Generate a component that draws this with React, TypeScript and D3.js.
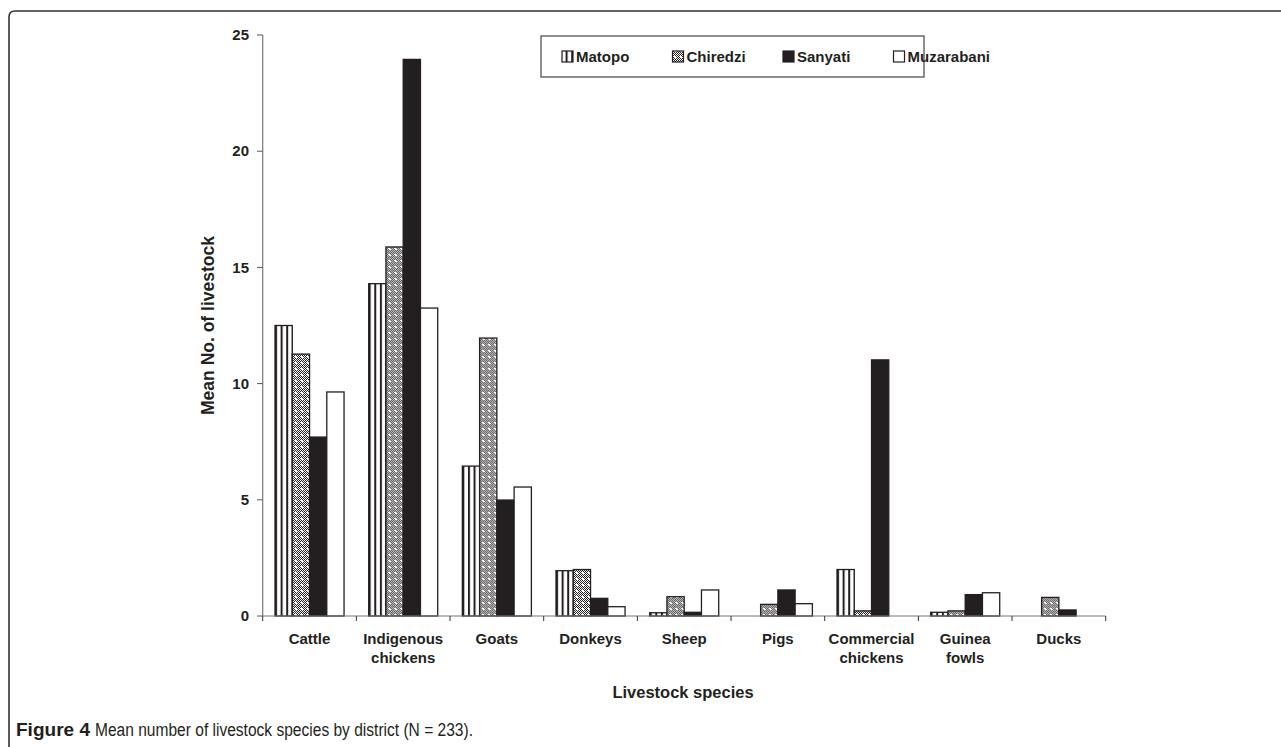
import React from "react";
import * as d3 from "d3";

const categories = ["Cattle", "Indigenous\nchickens", "Goats", "Donkeys", "Sheep", "Pigs", "Commercial\nchickens", "Guinea\nfowls", "Ducks"];
const seriesNames = ["Matopo", "Chiredzi", "Sanyati", "Muzarabani"];
const matopo = [12.5, 14.3, 6.45, 1.95, 0.14, 0, 2.0, 0.16, 0];
const chiredzi = [11.27, 15.88, 11.96, 2.0, 0.83, 0.5, 0.22, 0.22, 0.8];
const sanyati = [7.7, 23.95, 4.99, 0.76, 0.16, 1.12, 11.02, 0.92, 0.26];
const muzarabani = [9.64, 13.25, 5.55, 0.4, 1.12, 0.53, 0, 1.0, 0];
const yTicks = [0, 5, 10, 15, 20, 25];

const seriesValues = [matopo, chiredzi, sanyati, muzarabani];
const INK = "#231f20";
const FONT = "'Liberation Sans', Arial, sans-serif";
const fills = ["url(#stripes)", "url(#checker)", INK, "#ffffff"];

export default function App() {
  const W = 1281, H = 747;
  const x0 = d3.scaleBand<string>().domain(categories).range([262.7, 1105.7]).paddingInner(0.263).paddingOuter(0.1315);
  const x1 = d3.scaleBand<string>().domain(seriesNames).range([0, x0.bandwidth()]);
  const y = d3.scaleLinear().domain([0, 25]).range([616, 35]);
  const step = x0.step();
  const boundaries = d3.range(categories.length + 1).map(i => 262.7 + i * step);

  return (
    <svg width={W} height={H} style={{ position: "absolute", left: 0, top: 0, background: "#fff" }} fontFamily={FONT}>
      <defs>
        <pattern id="stripes" patternUnits="userSpaceOnUse" width="5.6" height="10">
          <rect width="5.6" height="10" fill="#fff" />
          <rect x="0" width="2" height="10" fill={INK} />
        </pattern>
        <pattern id="fine" patternUnits="userSpaceOnUse" width="2" height="2">
          <rect width="2" height="2" fill="#fff" />
          <rect x="0" y="0" width="1" height="1" fill={INK} />
          <rect x="1" y="1" width="1" height="1" fill={INK} />
        </pattern>
        <pattern id="checker" patternUnits="userSpaceOnUse" width="6" height="6">
          <rect width="6" height="6" fill="url(#fine)" />
          <rect x="2" y="2" width="2" height="2" fill="#fff" />
        </pattern>
      </defs>

      {/* frame */}
      <path d={`M ${W + 5} 11 L 15 11 Q 9 11 9 17 L 9 ${H + 5}`} fill="none" stroke="#333" strokeWidth={1.6} />

      {/* bars */}
      {categories.map((c, ci) => (
        <g key={c} transform={`translate(${x0(c)},0)`}>
          {seriesNames.map((s, si) => {
            const v = seriesValues[si][ci];
            if (v <= 0) return null;
            return (
              <rect key={s} x={x1(s)} y={y(v)} width={x1.bandwidth()} height={y(0) - y(v)}
                fill={fills[si]} stroke={INK} strokeWidth={1.3} />
            );
          })}
        </g>
      ))}

      {/* y axis */}
      <line x1={262.7} x2={262.7} y1={y(25)} y2={y(0)} stroke="#777" strokeWidth={1.2} />
      {yTicks.map(t => (
        <g key={t}>
          <line x1={257} x2={262.7} y1={y(t)} y2={y(t)} stroke="#555" strokeWidth={1} />
          <text x={249} y={y(t)} dy="0.35em" textAnchor="end" fontSize={15} fontWeight="bold" fill={INK}>{t}</text>
        </g>
      ))}
      <text transform={`translate(214,${y(12.5)}) rotate(-90)`} textAnchor="middle" fontSize={17.5} fontWeight="bold" fill={INK}>Mean No. of livestock</text>

      {/* x axis */}
      <line x1={262.7} x2={1105.7} y1={y(0)} y2={y(0)} stroke="#777" strokeWidth={1.2} />
      {boundaries.map((b, i) => (
        <line key={i} x1={b} x2={b} y1={y(0)} y2={y(0) + 5} stroke="#333" strokeWidth={1} />
      ))}
      {categories.map(c => (
        <text key={c} x={(x0(c) as number) + x0.bandwidth() / 2} y={644} textAnchor="middle" fontSize={15} fontWeight="bold" fill={INK}>
          {c.split("\n").map((l, i) => (
            <tspan key={i} x={(x0(c) as number) + x0.bandwidth() / 2} dy={i === 0 ? 0 : 19}>{l}</tspan>
          ))}
        </text>
      ))}
      <text x={683} y={698} textAnchor="middle" fontSize={16.5} fontWeight="bold" fill={INK}>Livestock species</text>

      {/* legend */}
      <rect x={541} y={36} width={383} height={41} fill="#fff" stroke="#444" strokeWidth={1.2} />
      {seriesNames.map((s, i) => {
        const sx = 562 + i * 110.5;
        return (
          <g key={s}>
            <rect x={sx} y={51} width={11} height={11} fill={fills[i]} stroke={INK} strokeWidth={1.2} />
            <text x={sx + 14} y={62} fontSize={15} fontWeight="bold" fill={INK}>{s}</text>
          </g>
        );
      })}

      {/* caption */}
      <text x={16} y={736} fontSize={18} fontWeight="bold" fill={INK} textLength={74} lengthAdjust="spacingAndGlyphs">Figure 4</text>
      <text x={95} y={736} fontSize={18} fill={INK} textLength={378} lengthAdjust="spacingAndGlyphs">Mean number of livestock species by district (N = 233).</text>
    </svg>
  );
}
